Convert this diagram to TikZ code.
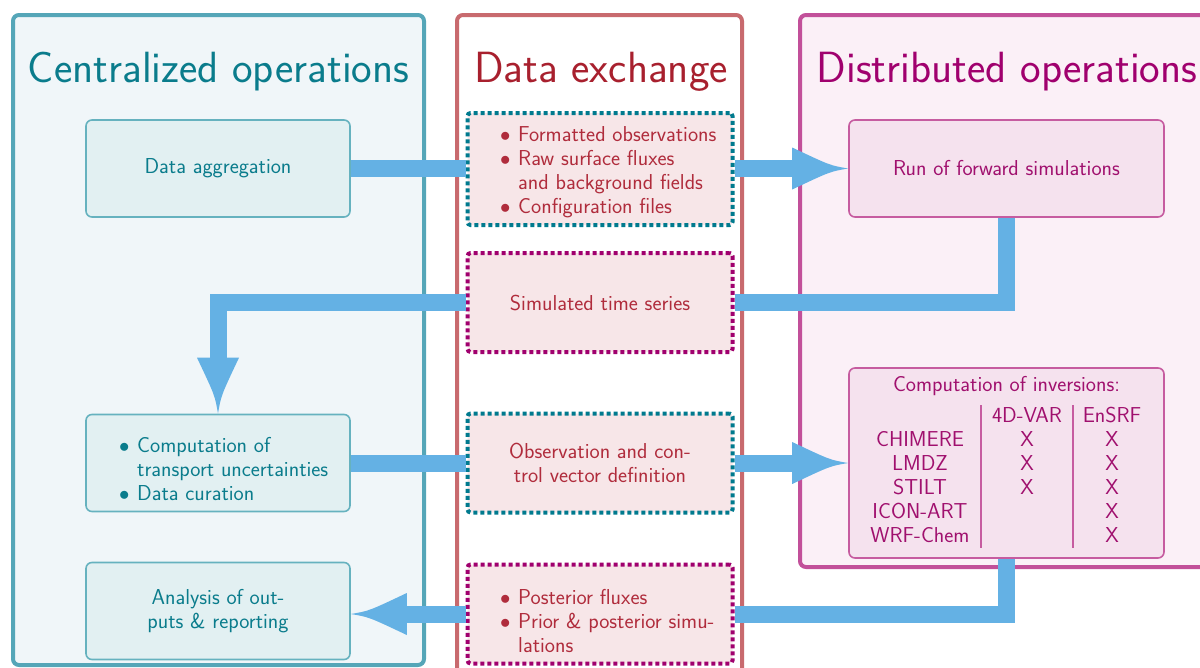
\documentclass[tikz,border=0pt]{standalone}
\usetikzlibrary{calc}
\definecolor{tealT}{HTML}{0A7C8C}
\definecolor{tealB}{HTML}{55A6B8}
\definecolor{tealF}{HTML}{F0F6F9}
\definecolor{tealBoxF}{HTML}{E2F0F2}
\definecolor{tealBoxB}{HTML}{66B2BF}
\definecolor{redT}{HTML}{A8202E}
\definecolor{redB}{HTML}{C86A6E}
\definecolor{redBoxF}{HTML}{F7E6E8}
\definecolor{redBoxT}{HTML}{B02C3C}
\definecolor{dotTeal}{HTML}{007A8E}
\definecolor{dotMag}{HTML}{A0006E}
\definecolor{magT}{HTML}{A0006E}
\definecolor{magB}{HTML}{C2509A}
\definecolor{magF}{HTML}{FBF0F7}
\definecolor{magBoxF}{HTML}{F5E2EE}
\definecolor{magBoxB}{HTML}{C65CA0}
\definecolor{magBoxT}{HTML}{A0106E}
\definecolor{flowc}{HTML}{64B1E4}
\newcommand\boxfont{\sffamily\fontsize{21.6}{24}\selectfont}
\newcommand\titlefont{\sffamily\fontsize{43.7}{50}\selectfont}
\newcommand\bul{\makebox[18pt][l]{$\bullet$}}
\newcommand\ind{\hspace*{18pt}}
\newcommand\flowhead[2]{\fill[flowc, shift={#1}, rotate=#2] (0,0) .. controls (-18,3) .. (-56,21) -- (-56,-21) .. controls (-18,-3) .. cycle;}
\tikzset{
  panel/.style={line width=4pt, rounded corners=6pt},
  ptitle/.style={anchor=base, font=\titlefont, inner sep=0},
  cbox/.style={draw=tealBoxB, fill=tealBoxF, line width=1.6pt, rounded corners=6pt,
    minimum width=264pt, minimum height=97pt, text=tealT, font=\boxfont, align=center, inner sep=0},
  rbox/.style={draw=magBoxB, fill=magBoxF, line width=1.6pt, rounded corners=6pt,
    minimum width=315pt, minimum height=97pt, text=magBoxT, font=\boxfont, align=center, inner sep=0},
  dbox/.style={fill=redBoxF, line width=4pt, dash pattern=on 4pt off 3pt, rounded corners=3pt,
    minimum width=265pt, minimum height=99pt, text=redBoxT, font=\boxfont, align=center, inner sep=0},
  btext/.style={anchor=west, font=\boxfont, align=left, inner sep=0},
  tab/.style={anchor=base, text=magBoxT, font=\boxfont, inner sep=0},
  flow/.style={draw=flowc, line width=17pt},
  tabrule/.style={draw=magBoxB, line width=1.4pt}
}
\begin{document}
\begin{tikzpicture}[x=1pt,y=-1pt]
\useasboundingbox (0,0) rectangle (1200,667);
% panels
\draw[panel, draw=tealB, fill=tealF] (13,15) rectangle (424,665);
\draw[panel, draw=redB, fill=white] (457,15) rectangle (742,700);
\draw[panel, draw=magB, fill=magF] (800,15) rectangle (1230,567);
\node[ptitle, text=tealT] (t1) at (218.5,82) {Centralized operations};
\node[ptitle, text=redT] (t2) at (601,82) {Data exchange};
\node[ptitle, text=magT] (t3) at (1007,82) {Distributed operations};
% left boxes
\node[cbox] (data) at (218,168.5) {Data aggregation};
\node[cbox] (comp) at (218,463) {};
\node[btext, text=tealT] (compT) at (119,469) {\bul Computation of\\ \ind transport uncertainties\\ \bul Data curation};
\node[cbox] (ana) at (218,611) {Analysis of out-\\puts \& reporting};
% middle boxes
\node[dbox, draw=dotTeal, minimum height=112pt] (box1) at (600,169) {};
\node[btext, text=redBoxT] (box1T) at (500,172) {\bul Formatted observations\\ \bul Raw surface fluxes\\ \ind and background fields\\ \bul Configuration files};
\node[dbox, draw=dotMag] (box2) at (600,302.5) {Simulated time series};
\node[dbox, draw=dotTeal] (box3) at (600,463) {Observation and con-\\trol vector definition};
\node[dbox, draw=dotMag] (box4) at (600,614) {};
\node[btext, text=redBoxT] (box4T) at (500,621) {\bul Posterior fluxes\\ \bul Prior \& posterior simu-\\ \ind lations};
% right boxes
\node[rbox] (run) at (1006.5,168.5) {Run of forward simulations};
\node[rbox, minimum height=190pt] (inv) at (1006.5,463) {};
\node[tab] (invT) at (1006.5,391) {Computation of inversions:};
\node[tab] (h1) at (1027,422) {4D-VAR};
\node[tab] (h2) at (1112,422) {EnSRF};
\foreach \n/\y [count=\i] in {CHIMERE/446,LMDZ/470,STILT/494,ICON-ART/518,WRF-Chem/542}{
  \node[tab] (mod\i) at (920,\y) {\n};
  \node[tab] (en\i) at (1112,\y) {X};
}
\foreach \y [count=\i] in {446,470,494}{
  \node[tab] (var\i) at (1027,\y) {X};
}
\draw[tabrule] (981,405) -- (981,548);
\draw[tabrule] (1073,405) -- (1073,548);
% flows
\draw[flow] (data.east) -- (data.east -| box1.west);
\draw[flow, shorten >=50pt] (box1.east |- run.west) -- (run.west);
\flowhead{(run.west)}{0}
\draw[flow] (run.south) |- (box2.east);
\draw[flow, shorten >=50pt] (box2.west) -| (comp.north);
\flowhead{(comp.north)}{-90}
\draw[flow] (comp.east) -- (comp.east -| box3.west);
\draw[flow, shorten >=50pt] (box3.east) -- (inv.west);
\flowhead{(inv.west)}{0}
\draw[flow] (inv.south) |- (box4.east);
\draw[flow, shorten >=50pt] (box4.west) -- (box4.west -| ana.east);
\flowhead{(box4.west -| ana.east)}{180}
\end{tikzpicture}
\end{document}
